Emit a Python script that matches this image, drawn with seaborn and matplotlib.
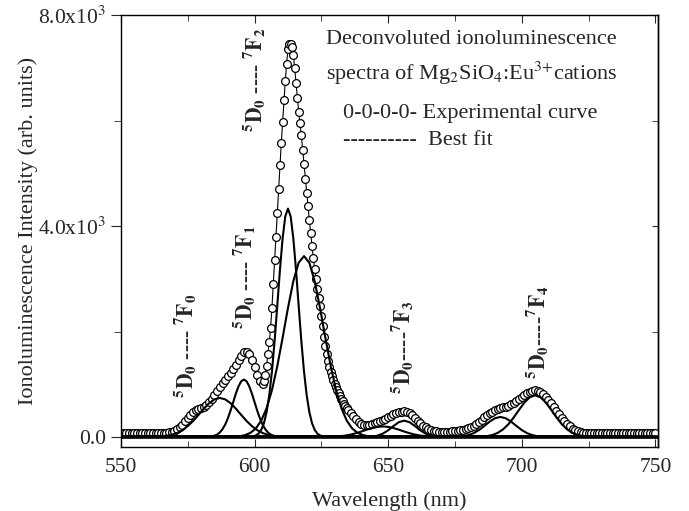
import numpy as np
import pandas as pd
import seaborn as sns
import matplotlib.pyplot as plt
from matplotlib.ticker import MultipleLocator, FixedLocator, FixedFormatter, NullFormatter

sns.set_style("ticks")
plt.rcParams['font.family'] = ['Liberation Serif', 'DejaVu Serif']
plt.rcParams['mathtext.fontset'] = 'stix'

# experimental spectrum (open circles)
exp_wl = np.concatenate([np.arange(550, 603, 1.0),
                         np.arange(603, 635.5, 0.5),
                         np.arange(636, 751, 1.0)])
exp_int = [75, 72, 78, 70, 74, 68, 72, 76, 70, 73, 69, 75, 71, 74, 72, 76, 80, 85, 92, 102,
           118, 145, 185, 235, 295, 355, 415, 465, 505, 535, 555, 575, 605, 655, 720, 790,
           870, 950, 1020, 1085, 1150, 1215, 1285, 1370, 1460, 1545, 1605, 1615, 1565, 1460,
           1320, 1170, 1060,
           1010, 1060, 1180, 1350, 1570, 1800, 2060, 2450, 2900, 3350, 3800, 4250, 4700, 5150,
           5580, 5980, 6380, 6750, 7080, 7350, 7460, 7450, 7390, 7250, 7000, 6720, 6420, 6170,
           5950, 5720, 5450, 5180, 4900, 4630, 4370, 4110, 3860, 3620, 3390, 3180, 2990, 2810,
           2640, 2480, 2300, 2100, 1900, 1720, 1570, 1440, 1330, 1240, 1155, 1075, 1005, 945,
           885, 830, 778, 728, 680, 635, 595, 558, 520,
           460, 395, 335, 285, 250, 230, 225, 230, 245, 262, 280, 298, 318, 342, 370, 400, 428,
           452, 470, 482, 486, 476, 450, 410, 362, 312, 262, 218, 182, 155, 135, 120, 110, 103,
           100, 98, 98, 100, 105, 112, 120, 130, 142, 156, 172, 192, 218, 250, 288, 330, 372,
           412, 448, 478, 503, 524, 543, 560, 577, 596, 620, 650, 684, 720, 757, 795, 830, 858,
           876, 882, 874, 850, 812, 762, 704, 640, 572, 502, 432, 364, 302, 248, 200, 160, 128,
           106, 92, 85, 82, 80, 78, 81, 77, 80, 76, 79, 82, 78, 75, 79, 81, 77, 74, 78, 80, 76,
           79, 75, 78, 81, 77, 74, 78, 80, 76]

# deconvoluted components (solid lines)
c1_wl = [565, 567, 569, 571, 573, 575, 577, 579, 581, 583, 585, 587, 589, 591, 593, 595,
         597, 599, 601, 603, 605, 607, 609, 611]
c1_int = [10, 21, 42, 76, 130, 206, 304, 419, 537, 642, 714, 740, 714, 642, 537, 419,
          304, 206, 130, 76, 42, 21, 10, 4]

c2_wl = list(range(583, 610))
c2_int = [5, 12, 25, 48, 87, 148, 236, 354, 499, 661, 823, 962, 1056, 1090, 1056, 962,
          823, 661, 499, 354, 236, 148, 87, 48, 25, 12, 5]

c3_wl = [599.5 + i for i in range(27)]
c3_int = [12, 30, 65, 136, 262, 472, 794, 1245, 1822, 2488, 3171, 3770, 4183, 4330, 4183,
          3770, 3171, 2488, 1822, 1245, 794, 472, 262, 136, 65, 30, 12]

c4_wl = [592.5 + 2 * i for i in range(27)]
c4_int = [6, 15, 37, 80, 164, 311, 545, 888, 1342, 1882, 2447, 2952, 3304, 3430, 3304,
          2952, 2447, 1882, 1342, 888, 545, 311, 164, 80, 37, 15, 6]

c5_wl = [630, 632, 634, 636, 638, 640, 642, 644, 646, 648, 650, 652, 654, 656, 658, 660,
         662, 664, 666]
c5_int = [7, 15, 27, 46, 72, 104, 139, 170, 192, 200, 192, 170, 139, 104, 72, 46, 27, 15, 7]

c6_wl = [644, 646, 648, 650, 652, 654, 656, 658, 660, 662, 664, 666, 668]
c6_int = [9, 26, 64, 127, 209, 281, 310, 281, 209, 127, 64, 26, 9]

c7_wl = [676, 678, 680, 682, 684, 686, 688, 690, 692, 694, 696, 698, 700, 702, 704, 706, 708]
c7_int = [6, 15, 35, 73, 132, 210, 292, 356, 380, 356, 292, 210, 132, 73, 35, 15, 6]

c8_wl = [685, 687, 689, 691, 693, 695, 697, 699, 701, 703, 705, 707, 709, 711, 713, 715,
         717, 719, 721, 723, 725]
c8_int = [7, 17, 38, 78, 144, 242, 371, 516, 654, 753, 790, 753, 654, 516, 371, 242, 144,
          78, 38, 17, 7]

components = [(c1_wl, c1_int), (c2_wl, c2_int), (c3_wl, c3_int), (c4_wl, c4_int),
              (c5_wl, c5_int), (c6_wl, c6_int), (c7_wl, c7_int), (c8_wl, c8_int)]

labels = [r"$\mathbf{^5D_0}$ ---- $\mathbf{^7F_0}$",
          r"$\mathbf{^5D_0}$ ---- $\mathbf{^7F_1}$",
          r"$\mathbf{^5D_0}$ ---- $\mathbf{^7F_2}$",
          r"$\mathbf{^5D_0}$----$\mathbf{^7F_3}$",
          r"$\mathbf{^5D_0}$----$\mathbf{^7F_4}$"]
label_wl = [574, 596, 600, 655.3, 705.7]
label_int = [1725, 3030, 6770, 1710, 1990]

fig = plt.figure(figsize=(6.89, 5.11), dpi=100)
ax = fig.add_axes([0.1756, 0.1252, 0.7794, 0.8454])

exp_df = pd.DataFrame({'wl': exp_wl, 'I': exp_int})
sns.lineplot(data=exp_df, x='wl', y='I', ax=ax, color='black', lw=0.8, marker='o',
             markersize=5.6, markerfacecolor='white', markeredgecolor='black',
             markeredgewidth=0.9, zorder=2)

# common zero baseline of the fitted components
ax.axhline(0, color='black', lw=2.6, zorder=3)
for wl, inten in components:
    df = pd.DataFrame({'wl': [550] + list(wl) + [750], 'I': [0] + list(inten) + [0]})
    sns.lineplot(data=df, x='wl', y='I', ax=ax, color='black', lw=1.5, zorder=3)

for lab, x, y in zip(labels, label_wl, label_int):
    ax.text(x, y, lab, rotation=90, ha='center', va='center', fontsize=15.5,
            fontweight='bold')

ax.text(0.382, 0.944, "Deconvoluted ionoluminescence", transform=ax.transAxes,
        fontsize=16, va='center')
ax.text(0.382, 0.865, r"spectra of Mg$_2$SiO$_4$:Eu$^{3{+}}$cations", transform=ax.transAxes,
        fontsize=16, va='center')
ax.text(0.413, 0.772, "0-0-0-0- Experimental curve", transform=ax.transAxes,
        fontsize=16, va='center')
ax.text(0.413, 0.710, "----------  Best fit", transform=ax.transAxes,
        fontsize=16, va='center')

ax.set_xlim(550, 751)
ax.set_ylim(-190, 8000)
ax.xaxis.set_major_locator(MultipleLocator(50))
ax.xaxis.set_minor_locator(MultipleLocator(25))
ax.yaxis.set_major_locator(FixedLocator([0, 4000, 8000]))
ax.yaxis.set_major_formatter(FixedFormatter(["0.0", r"4.0x10$^3$", r"8.0x10$^3$"]))
ax.yaxis.set_minor_locator(FixedLocator([2000, 6000]))
ax.tick_params(axis='x', which='both', direction='in', top=True, labelsize=15.5, pad=8)
ax.tick_params(axis='x', which='major', length=6)
ax.tick_params(axis='x', which='minor', length=4)
ax.tick_params(axis='y', which='both', direction='out', right=False, labelsize=15.5)
ax.tick_params(axis='y', which='major', length=7)
ax.tick_params(axis='y', which='minor', length=5)

sec = ax.secondary_yaxis('right')
sec.yaxis.set_major_locator(FixedLocator([0, 4000, 8000]))
sec.yaxis.set_minor_locator(FixedLocator([2000, 6000]))
sec.yaxis.set_major_formatter(NullFormatter())
sec.tick_params(axis='y', which='both', direction='in', length=4)

for s in list(ax.spines.values()) + list(sec.spines.values()):
    s.set_linewidth(1.0)
    s.set_color('black')

ax.set_xlabel("Wavelength (nm)", fontsize=16, labelpad=10)
ax.set_ylabel("Ionoluminescence Intensity (arb. units)", fontsize=16, labelpad=0)

plt.savefig("out.png", dpi=100)
